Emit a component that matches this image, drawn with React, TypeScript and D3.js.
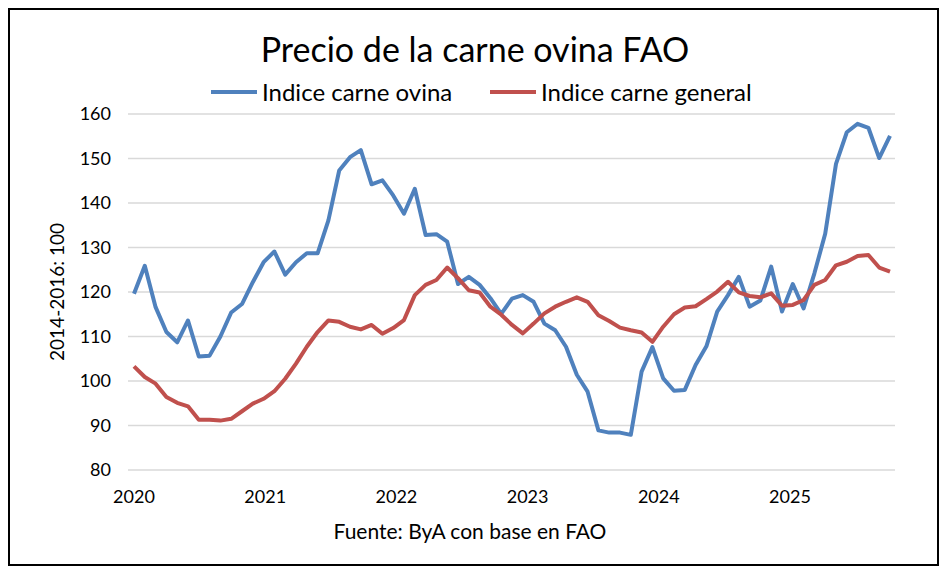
import * as d3 from "d3";

// Monthly FAO index values, Jan 2020 .. Nov 2025
const ovina = [
  119.6, 125.9, 116.6, 111.0, 108.7, 113.6, 105.5, 105.7, 110.0, 115.4, 117.3, 122.2,
  126.7, 129.1, 123.9, 126.7, 128.7, 128.7, 136.1, 147.3, 150.3, 151.9, 144.2, 145.1,
  141.7, 137.6, 143.2, 132.8, 133.0, 131.3, 121.8, 123.4, 121.6, 118.6, 115.1, 118.5,
  119.3, 117.8, 112.9, 111.4, 107.7, 101.4, 97.6, 88.9, 88.4, 88.4, 87.9, 102.1,
  107.6, 100.6, 97.8, 98.0, 103.6, 107.8, 115.6, 119.3, 123.4, 116.7, 118.1, 125.7,
  115.6, 121.8, 116.3, 124.2, 133.1, 148.8, 155.9, 157.8, 156.9, 150.1, 155.1,
];

const general = [
  103.3, 100.9, 99.4, 96.4, 95.1, 94.3, 91.3, 91.3, 91.1, 91.5, 93.2, 94.9,
  96.0, 97.7, 100.5, 103.9, 107.7, 111.0, 113.6, 113.3, 112.2, 111.6, 112.6, 110.6,
  111.9, 113.7, 119.3, 121.6, 122.7, 125.5, 123.1, 120.4, 119.9, 116.7, 114.9, 112.6,
  110.7, 112.9, 115.2, 116.7, 117.8, 118.8, 117.8, 114.8, 113.5, 112.0, 111.4, 110.9,
  108.8, 112.2, 115.0, 116.5, 116.8, 118.4, 120.1, 122.3, 119.9, 119.1, 118.8, 119.7,
  116.9, 117.1, 118.2, 121.6, 122.7, 126.0, 126.8, 128.1, 128.3, 125.5, 124.6,
];

const years = [2020, 2021, 2022, 2023, 2024, 2025];
const yTicks = [80, 90, 100, 110, 120, 130, 140, 150, 160];

const series = [
  { name: "Indice carne ovina", values: ovina, color: "#4f81bd" },
  { name: "Indice carne general", values: general, color: "#c0504d" },
];

const W = 950;
const H = 576;
const FONT = "Lato, 'Open Sans', sans-serif";

export default function App() {
  const x = d3.scaleLinear().domain([0, ovina.length - 1]).range([134, 890]);
  const xYear = d3.scaleLinear().domain([2020, 2025]).range([134, 790]);
  const y = d3.scaleLinear().domain([80, 160]).range([470, 114]);

  const line = d3
    .line<number>()
    .x((_d, i) => x(i))
    .y((d) => y(d));

  const legendX = [211, 490];

  return (
    <svg
      width={W}
      height={H}
      style={{ position: "absolute", left: 0, top: 0, background: "#fff" }}
    >
      <rect x={9} y={9} width={929} height={556} fill="#fff" stroke="#000" strokeWidth={2} />

      <text x={475} y={62} textAnchor="middle" fontFamily={FONT} fontSize={34} fill="#000">
        Precio de la carne ovina FAO
      </text>

      {series.map((s, i) => (
        <g key={s.name} transform={`translate(${legendX[i]},92)`}>
          <line x1={0} x2={46} y1={0} y2={0} stroke={s.color} strokeWidth={4} />
          <text x={51} y={8.5} fontFamily={FONT} fontSize={24} fill="#000">
            {s.name}
          </text>
        </g>
      ))}

      {yTicks.map((t) => (
        <g key={t}>
          <line x1={128} x2={895} y1={y(t)} y2={y(t)} stroke="#d9d9d9" strokeWidth={1.5} />
          <text
            x={111}
            y={y(t)}
            dy="0.35em"
            textAnchor="end"
            fontFamily={FONT}
            fontSize={18}
            fill="#000"
          >
            {t}
          </text>
        </g>
      ))}

      {years.map((yr) => (
        <text
          key={yr}
          x={xYear(yr)}
          y={503}
          textAnchor="middle"
          fontFamily={FONT}
          fontSize={18}
          fill="#000"
        >
          {yr}
        </text>
      ))}

      <text
        transform={`translate(64,${(y(80) + y(160)) / 2}) rotate(-90)`}
        textAnchor="middle"
        fontFamily={FONT}
        fontSize={19}
        fill="#000"
      >
        2014-2016: 100
      </text>

      {series.map((s) => (
        <path
          key={s.name}
          d={line(s.values) || ""}
          fill="none"
          stroke={s.color}
          strokeWidth={4}
          strokeLinejoin="round"
        />
      ))}

      <text x={470} y={539} textAnchor="middle" fontFamily={FONT} fontSize={21} fill="#000">
        Fuente: ByA con base en FAO
      </text>
    </svg>
  );
}
